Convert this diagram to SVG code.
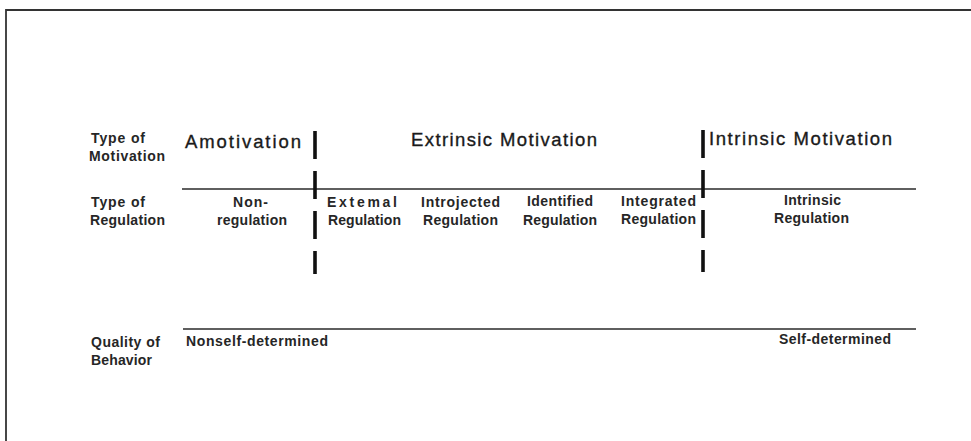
<svg xmlns="http://www.w3.org/2000/svg" width="971" height="441" viewBox="0 0 971 441">
  <style>
    text { font-family: "Liberation Sans", Arial, Helvetica, sans-serif; fill: #1c1c1c; }
    .sm { font-size: 14px; font-weight: bold; fill: #262626; }
    .lg { font-size: 18.5px; fill: #1a1a1a; stroke: #1a1a1a; stroke-width: 0.35; }
    .rule { stroke: #2a2a2a; stroke-width: 1.6; fill: none; }
    .frame { stroke: #333; stroke-width: 1.8; fill: none; }
    .div { stroke: #111; stroke-width: 3.6; stroke-dasharray: 28 12; fill: none; }
  </style>
  <rect width="971" height="441" fill="#ffffff"/>

  <g id="frame">
    <path class="frame" d="M6,441 V10 H971"/>
  </g>

  <g id="connectors">
    <line class="rule" x1="182" y1="189" x2="916" y2="189"/>
    <line class="rule" x1="183" y1="329" x2="916" y2="329"/>
    <line class="div" x1="315" y1="131" x2="315" y2="274"/>
    <line class="div" x1="703" y1="130" x2="703" y2="272"/>
  </g>

  <g id="row-motivation-header">
    <text class="sm" x="91" y="143" textLength="54" lengthAdjust="spacing">Type of</text>
    <text class="sm" x="89" y="161" textLength="76" lengthAdjust="spacing">Motivation</text>
  </g>
  <g id="row-regulation-header">
    <text class="sm" x="91" y="207" textLength="54" lengthAdjust="spacing">Type of</text>
    <text class="sm" x="90" y="225" textLength="75" lengthAdjust="spacing">Regulation</text>
  </g>
  <g id="row-quality-header">
    <text class="sm" x="91" y="347" textLength="69" lengthAdjust="spacing">Quality of</text>
    <text class="sm" x="91" y="365" textLength="61" lengthAdjust="spacing">Behavior</text>
  </g>

  <g id="amotivation">
    <text class="lg" x="185" y="148" textLength="116" lengthAdjust="spacing">Amotivation</text>
  </g>
  <g id="extrinsic-motivation">
    <text class="lg" x="411" y="146" textLength="186" lengthAdjust="spacing">Extrinsic Motivation</text>
  </g>
  <g id="intrinsic-motivation">
    <text class="lg" x="709" y="145" textLength="183" lengthAdjust="spacing">Intrinsic Motivation</text>
  </g>

  <g id="non-regulation">
    <text class="sm" x="233" y="207" textLength="35" lengthAdjust="spacing">Non-</text>
    <text class="sm" x="217" y="225" textLength="70" lengthAdjust="spacing">regulation</text>
  </g>
  <g id="external-regulation">
    <text class="sm" x="327" y="207" textLength="70" lengthAdjust="spacing">Extemal</text>
    <text class="sm" x="328" y="225" textLength="73" lengthAdjust="spacing">Regulation</text>
  </g>
  <g id="introjected-regulation">
    <text class="sm" x="421" y="207" textLength="79" lengthAdjust="spacing">Introjected</text>
    <text class="sm" x="423" y="225" textLength="75" lengthAdjust="spacing">Regulation</text>
  </g>
  <g id="identified-regulation">
    <text class="sm" x="527" y="206" textLength="66" lengthAdjust="spacing">Identified</text>
    <text class="sm" x="523" y="225" textLength="74" lengthAdjust="spacing">Regulation</text>
  </g>
  <g id="integrated-regulation">
    <text class="sm" x="621" y="206" textLength="75" lengthAdjust="spacing">Integrated</text>
    <text class="sm" x="621" y="224" textLength="75" lengthAdjust="spacing">Regulation</text>
  </g>
  <g id="intrinsic-regulation">
    <text class="sm" x="784" y="205" textLength="57" lengthAdjust="spacing">Intrinsic</text>
    <text class="sm" x="774" y="223" textLength="75" lengthAdjust="spacing">Regulation</text>
  </g>

  <g id="nonself-determined">
    <text class="sm" x="186" y="346" textLength="142" lengthAdjust="spacing">Nonself-determined</text>
  </g>
  <g id="self-determined">
    <text class="sm" x="779" y="344" textLength="112" lengthAdjust="spacing">Self-determined</text>
  </g>
</svg>
